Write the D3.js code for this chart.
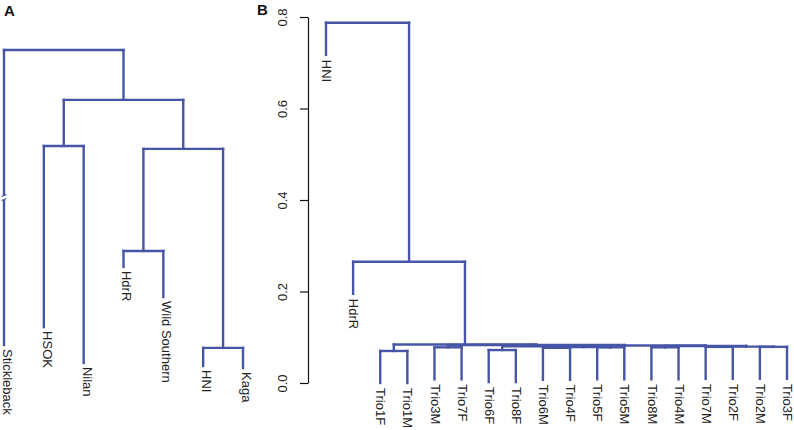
<!DOCTYPE html>
<html>
<head>
<meta charset="utf-8">
<script src="https://cdn.jsdelivr.net/npm/d3@7/dist/d3.min.js"></script>
<style>
  html, body { margin: 0; padding: 0; background: #fff; }
  svg { display: block; font-family: "Liberation Sans", Arial, Helvetica, sans-serif; }
</style>
</head>
<body>
<svg id="chart" width="794" height="430"></svg>
<script>
// ---------------- Panel A data ----------------
const leavesA = ["Stickleback", "HSOK", "Nilan", "HdrR", "Wild Southern", "HNI", "Kaga"];
const leafEndA = [0.078, 0.134, 0.022, 0.322, 0.228, 0.0125, 0.006];
// R hclust-style merge table: negative = leaf index (1-based), positive = earlier merge
const mergeA = [[-6, -7], [-4, -5], [-2, -3], [2, 1], [3, 4], [-1, 5]];
const heightA = [0.069, 0.372, 0.700, 0.691, 0.844, 1.0];

// ---------------- Panel B data ----------------
const leavesB = ["HNI", "HdrR", "Trio1F", "Trio1M", "Trio3M", "Trio7F", "Trio6F", "Trio8F",
  "Trio6M", "Trio4F", "Trio5F", "Trio5M", "Trio8M", "Trio4M", "Trio7M", "Trio2F", "Trio2M", "Trio3F"];
const mergeB = [[-3, -4], [-7, -8], [-5, -6], [-9, -10], [-11, -12], [-13, -14], [-15, -16], [-17, -18],
  [4, 5], [2, 9], [7, 8], [6, 11], [10, 12], [3, 13], [1, 14], [-2, 15], [-1, 16]];
const heightB = [0.070, 0.072, 0.078, 0.077, 0.078, 0.078, 0.079, 0.079,
  0.0785, 0.080, 0.0795, 0.081, 0.082, 0.083, 0.084, 0.265, 0.7875];
const hangB = 0.07;
const ticksB = [0.0, 0.2, 0.4, 0.6, 0.8];

const lineColor = "#4655a5";
const textColor = "#222";
const svg = d3.select("#chart");

let leafEndsPx = [];
function drawDendro(g, leaves, merges, heights, xScale, yScale, leafEnd) {
  const nodePos = [];
  function pos(id) {
    if (id < 0) {
      const i = -id - 1;
      return { x: xScale(leaves[i]), h: null, leaf: i };
    }
    return nodePos[id - 1];
  }
  const segs = [];
  merges.forEach((m, k) => {
    const a = pos(m[0]), b = pos(m[1]);
    const h = heights[k];
    const y = yScale(h);
    [a, b].forEach(c => {
      const yEnd = c.leaf != null ? yScale(leafEnd(c.leaf, h)) : yScale(c.h);
      segs.push([[c.x, y], [c.x, yEnd]]);
      if (c.leaf != null) leafEndsPx[c.leaf] = yEnd;
    });
    segs.push([[a.x, y], [b.x, y]]);
    nodePos[k] = { x: (a.x + b.x) / 2, h: h };
  });
  g.selectAll("path.seg").data(segs).join("path")
    .attr("class", "seg")
    .attr("d", d => d3.line()(d))
    .attr("fill", "none")
    .attr("stroke", lineColor)
    .attr("stroke-width", 2.4)
    .attr("stroke-linecap", "square");
}

// ---------------- Panel A ----------------
const gA = svg.append("g");
const xA = d3.scalePoint().domain(leavesA).range([4, 243]);
const yA = d3.scaleLinear().domain([0, 1]).range([370, 50]);
leafEndsPx = [];
drawDendro(gA, leavesA, mergeA, heightA, xA, yA, (i, h) => leafEndA[i]);
const endsA = leafEndsPx.slice();
gA.selectAll("text.leaf").data(leavesA).join("text")
  .attr("class", "leaf")
  .attr("transform", (d, i) => `translate(${xA(d)},${endsA[i] + 4}) rotate(90)`)
  .attr("dy", "0.08em")
  .attr("font-size", 13)
  .attr("fill", textColor)
  .text(d => d);
// break mark on Stickleback branch
const bx = xA(leavesA[0]);
const by = 198;
gA.append("rect").attr("x", bx - 3).attr("y", by - 2).attr("width", 6).attr("height", 4).attr("fill", "#fff");
gA.append("path")
  .attr("d", `M${bx - 2.5},${by - 1.5} L${bx + 2.5},${by - 3.5} M${bx - 2.5},${by + 2.5} L${bx + 2.5},${by + 0.5}`)
  .attr("stroke", lineColor).attr("stroke-width", 1.3).attr("fill", "none");
svg.append("text").attr("x", 4).attr("y", 16).attr("font-size", 15).attr("font-weight", "bold").attr("fill", "#111").text("A");

// ---------------- Panel B ----------------
const gB = svg.append("g");
const xB = d3.scalePoint().domain(leavesB).range([326, 787]);
const yB = d3.scaleLinear().domain([0, 0.8]).range([383, 17]);
leafEndsPx = [];
drawDendro(gB, leavesB, mergeB, heightB, xB, yB, (i, h) => h - hangB);
const endsB = leafEndsPx.slice();
gB.selectAll("text.leaf").data(leavesB).join("text")
  .attr("class", "leaf")
  .attr("transform", (d, i) => `translate(${xB(d)},${endsB[i] + 5}) rotate(90)`)
  .attr("dy", "0.3em")
  .attr("font-size", 13)
  .attr("fill", textColor)
  .text(d => d);

// y axis
const axisG = svg.append("g").attr("transform", "translate(308,0)");
axisG.call(d3.axisLeft(yB).tickValues(ticksB).tickFormat(d3.format(".1f")).tickSize(8).tickSizeOuter(0));
axisG.select(".domain").attr("stroke", "#111").attr("stroke-width", 1.2);
axisG.selectAll(".tick line").attr("stroke", "#111").attr("stroke-width", 1.2);
axisG.selectAll(".tick text")
  .attr("x", null).attr("dy", null)
  .attr("text-anchor", "middle")
  .attr("transform", "translate(-21,0) rotate(-90)")
  .attr("y", 0)
  .attr("font-size", 13)
  .attr("font-family", "Liberation Sans, Arial, sans-serif")
  .attr("fill", textColor);
svg.append("text").attr("x", 257).attr("y", 15).attr("font-size", 15).attr("font-weight", "bold").attr("fill", "#111").text("B");
</script>
</body>
</html>
